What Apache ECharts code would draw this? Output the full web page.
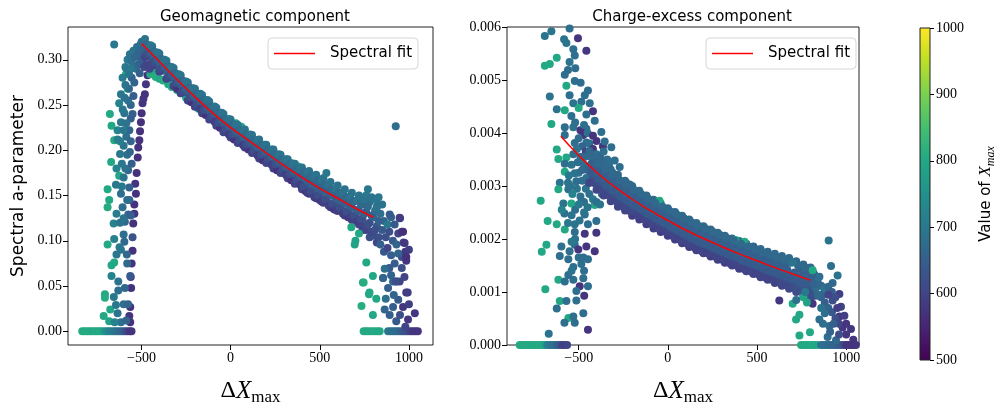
<!DOCTYPE html>
<html><head><meta charset="utf-8">
<script src="https://cdn.jsdelivr.net/npm/echarts@6/dist/echarts.min.js"></script>
<style>html,body{margin:0;padding:0;background:#fff}#c{width:998px;height:411px}</style>
</head><body><div id="c"></div><script>
// ---------- data ----------
const xTicks = [-500, 0, 500, 1000];
const geoYTicks = [0, 0.05, 0.10, 0.15, 0.20, 0.25, 0.30];
const ceYTicks = [0, 0.001, 0.002, 0.003, 0.004, 0.005, 0.006];
const cbTicks = [500, 600, 700, 800, 900, 1000];

const geoFitX = [-500,-400,-300,-200,-100,0,100,200,300,400,500,600,700,800];
const geoFitY = [0.318,0.298,0.278,0.259,0.241,0.225,0.211,0.197,0.183,0.170,0.158,0.147,0.136,0.126];
const ceFitX = [-600,-500,-400,-300,-200,-100,0,100,200,300,400,500,600,700,800];
const ceFitY = [3.94e-3,3.58e-3,3.26e-3,2.99e-3,2.75e-3,2.54e-3,2.35e-3,2.17e-3,2.01e-3,1.86e-3,1.72e-3,1.59e-3,1.46e-3,1.34e-3,1.22e-3];

// [deltaXmax, a-parameter, Xmax]
const geoZero = [[-832,0,805],[-818,0,805],[-804,0,805],[-790,0,805],[-776,0,800],[-762,0,805],[-748,0,800],[-734,0,805],[-720,0,800],[-706,0,760],[-692,0,740],[-678,0,720],[-664,0,710],[-650,0,700],[-636,0,680],[-622,0,670],[-608,0,660],[-594,0,640],[-580,0,600],[-566,0,580],[-556,0,575],[746,0,805],[760,0,800],[774,0,805],[790,0,800],[806,0,805],[822,0,800],[836,0,800],[883,0,700],[897,0,690],[911,0,680],[925,0,680],[939,0,670],[953,0,660],[967,0,640],[981,0,630],[995,0,620],[1009,0,590],[1023,0,580],[1037,0,575],[1050,0,575]];
const geoRise = [[-563,0.027,570],[-558,0.048,570],[-563,0.010,570],[-568,0.017,575],[-560,0.060,580],[-555,0.075,575],[-550,0.089,570],[-546,0.119,570],[-540,0.130,575],[-540,0.140,570],[-531,0.152,570],[-535,0.163,575],[-527,0.175,570],[-521,0.192,570],[-518,0.203,570],[-512,0.211,570],[-508,0.221,570],[-503,0.231,570],[-499,0.241,570],[-494,0.252,575],[-489,0.257,575],[-481,0.262,570],[-475,0.273,575],[-466,0.283,570],
[-690,0.157,800],[-681,0.145,800],[-690,0.137,805],[-690,0.096,800],[-653,0.076,800],[-668,0.073,800],[-705,0.041,800],[-705,0.037,805],[-712,0.017,800],[-677,0.240,800],[-668,0.227,800],[-653,0.211,805],[-670,0.187,800],[-625,0.172,800],[-587,0.284,800],[-578,0.268,800],[-675,0.024,800],[-681,0.011,790],
[-643,0.162,700],[-615,0.152,680],[-568,0.159,660],[-606,0.137,680],[-568,0.145,650],[-574,0.129,660],[-593,0.121,670],[-656,0.119,720],[-600,0.107,680],[-550,0.104,630],[-653,0.102,720],[-596,0.099,670],[-615,0.090,690],[-623,0.093,700],[-668,0.061,720],[-630,0.055,690],[-563,0.061,640],[-593,0.048,670],[-630,0.045,680],[-643,0.029,700],[-634,0.020,690],[-615,0.010,680],[-587,0.291,700],[-606,0.280,710],[-615,0.262,700],[-625,0.252,720],[-596,0.241,690],[-615,0.231,700],[-634,0.222,720],[-568,0.222,660],[-634,0.212,710],[-600,0.205,690],[-580,0.195,680],[-610,0.185,700],[-640,0.180,720],[-600,0.170,690],[-575,0.178,660],[-620,0.196,700],[-585,0.215,680],[-560,0.235,650],[-595,0.258,690],[-570,0.268,670],[-555,0.280,660],[-560,0.250,660],[-580,0.075,670],[-600,0.030,680],[-575,0.030,660],[-655,0.038,700],[-585,0.012,660],[-650,0.010,720],[-640,0.130,710],[-620,0.120,690],[-582,0.085,670],[-640,0.085,700],
[-590,0.272,690],[-575,0.255,680],[-605,0.245,700],[-585,0.230,690],[-560,0.210,660],[-545,0.260,650],[-540,0.275,660],[-550,0.240,650],[-565,0.198,670],[-590,0.180,690],[-555,0.185,650],[-620,0.210,710],[-600,0.222,700],[-610,0.160,700],[-580,0.145,680],[-600,0.125,690],[-560,0.128,650]];
const geoPeak = [[-578,0.300,700],[-565,0.306,690],[-555,0.298,680],[-545,0.310,690],[-535,0.303,670],[-525,0.314,680],[-515,0.307,660],[-505,0.317,680],[-499,0.320,680],[-495,0.310,660],[-485,0.316,670],[-475,0.309,650],[-465,0.314,660],[-455,0.305,640],[-445,0.310,650],[-545,0.292,690],[-530,0.290,680],[-515,0.295,660],[-500,0.300,650],[-485,0.292,610],[-470,0.295,600],[-455,0.290,600],[-590,0.292,700],[-570,0.285,690],[-560,0.290,700],[-653,0.317,700],[-510,0.285,650],[-440,0.300,620],[-428,0.294,590]];
const geoBand = [[-480,0.323,690],[-460,0.314,650],[-480,0.313,660],[-460,0.304,630],[-480,0.303,600],
[-440,0.315,690],[-420,0.306,650],[-440,0.305,660],[-420,0.296,630],[-440,0.295,600],
[-400,0.307,690],[-380,0.298,650],[-400,0.297,660],[-380,0.288,630],[-400,0.287,600],
[-360,0.299,690],[-340,0.290,650],[-360,0.289,660],[-340,0.280,630],[-360,0.279,600],
[-320,0.291,690],[-300,0.282,650],[-320,0.281,660],[-300,0.272,630],[-320,0.271,600],[-300,0.268,570],
[-280,0.283,690],[-260,0.274,650],[-280,0.273,660],[-260,0.264,630],[-280,0.263,600],
[-240,0.275,690],[-220,0.267,650],[-240,0.265,660],[-220,0.257,630],[-240,0.255,600],[-220,0.253,570],
[-200,0.268,690],[-180,0.259,650],[-200,0.258,660],[-180,0.249,630],[-200,0.248,600],
[-160,0.261,690],[-140,0.252,650],[-160,0.251,660],[-140,0.242,630],[-160,0.241,600],[-140,0.239,570],
[-120,0.254,690],[-100,0.245,650],[-120,0.244,660],[-100,0.235,630],[-120,0.234,600],
[-80,0.247,690],[-60,0.238,650],[-80,0.237,660],[-60,0.228,630],[-80,0.227,600],[-60,0.225,570],
[-40,0.240,690],[-20,0.231,650],[-40,0.230,660],[-20,0.221,630],[-40,0.220,600],
[0,0.234,690],[20,0.225,650],[0,0.224,660],[20,0.216,630],[0,0.214,600],[20,0.212,570],
[40,0.228,690],[60,0.219,650],[40,0.218,660],[60,0.210,630],[40,0.208,600],
[80,0.223,690],[100,0.214,650],[80,0.213,660],[100,0.205,630],[80,0.203,600],[100,0.201,570],
[120,0.217,690],[140,0.208,650],[120,0.207,660],[140,0.199,630],[120,0.197,600],
[160,0.212,690],[180,0.203,650],[160,0.201,660],[180,0.194,630],[160,0.191,600],[180,0.189,570],
[200,0.206,690],[220,0.197,650],[200,0.196,660],[220,0.188,630],[200,0.186,600],
[240,0.201,690],[260,0.192,650],[240,0.190,660],[260,0.183,630],[240,0.180,600],[260,0.178,570],
[280,0.195,690],[300,0.186,650],[280,0.185,660],[300,0.177,630],[280,0.175,600],
[320,0.190,690],[340,0.181,650],[320,0.179,660],[340,0.172,630],[320,0.169,600],[340,0.167,570],
[360,0.185,690],[380,0.176,650],[360,0.174,660],[380,0.166,630],[360,0.163,600],
[400,0.181,690],[420,0.172,650],[400,0.169,660],[420,0.161,630],[400,0.157,600],[420,0.155,570],
[440,0.177,690],[460,0.168,650],[440,0.164,660],[460,0.156,630],[440,0.152,600],[460,0.172,700],
[480,0.173,690],[500,0.163,650],[480,0.159,660],[500,0.151,630],[480,0.147,600],[500,0.145,570],
[520,0.169,690],[540,0.159,650],[520,0.155,660],[540,0.147,630],[520,0.142,600],[537,0.175,700],
[560,0.165,690],[580,0.154,650],[560,0.150,660],[580,0.142,630],[560,0.137,600],[580,0.135,570],
[600,0.161,690],[620,0.151,650],[600,0.146,660],[620,0.138,630],[600,0.133,600],
[640,0.157,690],[660,0.147,650],[640,0.141,660],[660,0.133,630],[640,0.128,600],[660,0.126,570],
[680,0.153,690],[700,0.144,650],[680,0.137,660],[700,0.129,630],[680,0.123,600],
[720,0.150,690],[740,0.140,650],[720,0.133,660],[740,0.124,630],[720,0.118,600],[740,0.112,580],
[760,0.150,700],[780,0.143,680],[760,0.132,660],[780,0.120,630],[760,0.112,600],[780,0.104,620],
[800,0.146,700],[820,0.138,680],[800,0.126,660],[820,0.116,640],[800,0.106,620],[820,0.098,600],[770,0.157,700],[830,0.148,700],[850,0.140,690]];
const geoBand2 = [[-470,0.317,670],[-470,0.306,620],[-450,0.308,650],[-450,0.316,690],
[-430,0.309,670],[-430,0.298,620],[-410,0.300,650],[-410,0.308,690],
[-390,0.301,670],[-390,0.290,620],[-370,0.292,650],[-370,0.300,690],
[-350,0.293,670],[-350,0.282,620],[-330,0.284,650],[-330,0.292,690],
[-310,0.285,670],[-310,0.274,620],[-290,0.276,650],[-290,0.284,690],
[-270,0.277,670],[-270,0.266,620],[-250,0.268,650],[-250,0.276,690],
[-230,0.2695,670],[-230,0.2585,620],[-210,0.2605,650],[-210,0.2685,690],
[-190,0.2625,670],[-190,0.2515,620],[-170,0.2545,650],[-170,0.2625,690],[-170,0.2455,590],
[-150,0.2555,670],[-150,0.2445,620],[-130,0.2475,650],[-130,0.2555,690],
[-110,0.2485,670],[-110,0.2375,620],[-90,0.2405,650],[-90,0.2485,690],[-90,0.2315,590],
[-70,0.2415,670],[-70,0.2305,620],[-50,0.2335,650],[-50,0.2415,690],
[-30,0.2345,670],[-30,0.2235,620],[-10,0.2265,650],[-10,0.2345,690],[-10,0.2175,590],
[10,0.2285,670],[10,0.2175,620],[30,0.2205,650],[30,0.2285,690],
[50,0.2225,670],[50,0.2115,620],[70,0.2145,650],[70,0.2225,690],[70,0.2055,590],
[90,0.2175,670],[90,0.2065,620],[110,0.2095,650],[110,0.2175,690],
[130,0.2115,670],[130,0.2005,620],[150,0.2035,650],[150,0.2115,690],[150,0.1945,590],
[170,0.206,670],[170,0.195,620],[190,0.198,650],[190,0.206,690],
[210,0.201,670],[210,0.190,620],[230,0.193,650],[230,0.201,690],[230,0.184,590],
[250,0.1955,670],[250,0.1845,620],[270,0.1875,650],[270,0.1955,690],
[290,0.190,670],[290,0.179,620],[310,0.182,650],[310,0.190,690],[310,0.173,590],
[330,0.1845,670],[330,0.1735,620],[350,0.1765,650],[350,0.1845,690],
[370,0.179,670],[370,0.168,620],[390,0.171,650],[390,0.179,690],[390,0.162,590],
[410,0.176,670],[410,0.160,620],[430,0.166,650],[430,0.176,690],[430,0.153,590],
[450,0.171,670],[450,0.155,620],[470,0.161,650],[470,0.171,690],[470,0.148,590],
[490,0.1665,670],[490,0.1505,620],[510,0.1565,650],[510,0.1665,690],[510,0.1435,590],
[530,0.162,670],[530,0.146,620],[550,0.152,650],[550,0.162,690],[550,0.139,590],
[570,0.157,670],[570,0.141,620],[590,0.147,650],[590,0.157,690],[590,0.134,590],
[610,0.153,670],[610,0.137,620],[630,0.143,650],[630,0.153,690],[630,0.130,590],
[650,0.1485,670],[650,0.1325,620],[670,0.1385,650],[670,0.1485,690],[670,0.1255,590],
[690,0.144,670],[690,0.128,620],[710,0.134,650],[710,0.145,690],[710,0.121,590],
[730,0.141,670],[730,0.124,620],[750,0.130,650],[750,0.146,690],[750,0.116,600],
[770,0.138,670],[770,0.118,620],[790,0.128,650],[790,0.148,690],[790,0.110,610],
[810,0.133,670],[810,0.112,620],[830,0.122,650],[830,0.140,690],[830,0.104,620]];
const geoGreen = [[-450,0.284,810],[-440,0.288,800],[-420,0.281,810],[-400,0.279,800],[-380,0.277,810],[-360,0.279,800],[-350,0.273,800],[-330,0.270,810],[-300,0.272,810],[-300,0.2665,800],[-280,0.263,810],[-250,0.258,800],[-230,0.2545,810],[-200,0.249,800],[-180,0.246,800],[30,0.230,790],[60,0.226,800],[340,0.186,800],[380,0.182,790],[420,0.176,800]];
const geoTail = [[840,0.130,680],[860,0.122,660],[850,0.112,640],[870,0.104,620],[840,0.096,650],[860,0.088,640],[880,0.118,700],[900,0.126,660],[890,0.110,620],[910,0.100,640],[880,0.092,600],[900,0.084,650],[920,0.118,640],[940,0.108,600],[930,0.096,660],[950,0.125,580],[960,0.110,580],[970,0.098,600],[980,0.088,580],[960,0.082,620],[985,0.078,580],[940,0.086,660],[920,0.075,650],[890,0.070,640],[864,0.069,680],[855,0.059,690],[900,0.062,660],[930,0.055,640],[948,0.055,600],[911,0.055,660],[985,0.043,580],[993,0.043,590],[975,0.060,600],[960,0.070,620],[883,0.048,650],[864,0.024,660],[911,0.027,650],[967,0.027,580],[892,0.018,650],[929,0.011,640],[995,0.013,580],[1033,0.020,580],[940,0.035,640],[915,0.040,660],[870,0.036,680],[1000,0.030,590],[950,0.018,620],[980,0.005,600],[926,0.2265,680],[818,0.136,690],[892,0.129,640],[948,0.1255,590],[967,0.110,570],[976,0.0975,580],[985,0.082,570],[928,0.055,620],[855,0.059,660],[1000,0.090,590],
[761,0.076,800],[798,0.061,800],[742,0.054,800],[696,0.096,790],[677,0.115,800],[776,0.041,800],[746,0.054,810],[734,0.028,810],[798,0.018,800],[779,0.043,800],[817,0.036,800],[700,0.100,790],[720,0.108,800]];

const ceZero = [[-831,0,805],[-817,0,800],[-803,0,805],[-789,0,800],[-775,0,805],[-761,0,800],[-747,0,805],[-733,0,800],[-719,0,805],[-705,0,800],[-691,0,790],[-677,0,720],[-663,0,700],[-649,0,690],[-635,0,680],[-621,0,660],[-607,0,640],[-593,0,600],[-579,0,590],[-565,0,600],[747,0,805],[761,0,800],[775,0,805],[790,0,800],[805,0,805],[820,0,800],[835,0,800],[859,0,690],[873,0,680],[887,0,680],[901,0,670],[915,0,670],[929,0,660],[943,0,660],[957,0,650],[971,0,640],[985,0,620],[999,0,580],[1013,0,575],[1027,0,575],[1041,0,570],[1055,0,575]];
const ceRise = [[-690,5.83e-3,690],[-653,5.92e-3,690],[-551,5.97e-3,680],[-504,5.79e-3,575],[-582,5.77e-3,690],[-569,5.70e-3,690],[-457,5.55e-3,580],[-530,5.58e-3,680],[-522,5.46e-3,680],[-551,5.34e-3,690],[-519,5.22e-3,680],[-560,5.19e-3,680],[-578,5.10e-3,680],[-690,5.27e-3,800],[-662,5.30e-3,800],[-623,5.42e-3,800],[-569,4.89e-3,800],[-522,4.98e-3,680],[-489,4.95e-3,680],[-448,4.80e-3,680],[-662,4.69e-3,690],[-551,4.71e-3,680],[-466,4.71e-3,680],[-485,4.59e-3,680],[-530,4.56e-3,690],[-623,4.45e-3,690],[-578,4.43e-3,800],[-500,4.47e-3,800],[-438,4.56e-3,680],[-420,4.41e-3,575],[-541,4.32e-3,680],[-457,4.35e-3,680],[-410,4.23e-3,680],[-653,4.17e-3,800],[-578,4.11e-3,680],[-530,4.11e-3,690],[-457,4.08e-3,680],[-474,3.96e-3,575],[-373,4.02e-3,680],[-578,3.96e-3,680],[-623,3.69e-3,800],[-522,3.81e-3,680],[-457,3.82e-3,680],[-364,3.75e-3,575],[-354,3.84e-3,680],[-317,3.73e-3,680],[-614,3.51e-3,800],[-569,3.54e-3,800],[-578,3.42e-3,680],[-485,3.48e-3,680],[-429,3.42e-3,680],[-373,3.48e-3,680],[-298,3.48e-3,680],[-270,3.36e-3,680],[-578,3.27e-3,800],[-522,3.24e-3,690],[-606,3.06e-3,690],[-560,3.06e-3,690],[-513,3.09e-3,680],[-457,3.15e-3,680],[-392,3.18e-3,680],[-336,3.15e-3,680],[-233,3.06e-3,680],[-214,3.03e-3,680],
[-713,2.72e-3,800],[-614,2.94e-3,800],[-558,2.94e-3,680],[-586,2.67e-3,690],[-541,2.67e-3,800],[-485,2.70e-3,680],[-410,2.64e-3,800],[-674,2.34e-3,800],[-623,2.28e-3,800],[-580,2.48e-3,680],[-522,2.28e-3,690],[-466,2.46e-3,680],[-448,2.28e-3,680],[-401,2.34e-3,680],[-578,2.18e-3,800],[-522,2.13e-3,680],[-466,2.10e-3,575],[-401,2.12e-3,575],[-681,1.89e-3,800],[-707,1.76e-3,800],[-597,1.86e-3,680],[-522,1.89e-3,680],[-457,1.86e-3,575],[-502,1.80e-3,575],[-551,1.77e-3,680],[-410,1.77e-3,575],[-606,1.68e-3,680],[-558,1.62e-3,680],[-474,1.65e-3,680],[-448,1.62e-3,680],[-530,1.47e-3,680],[-485,1.53e-3,680],[-558,1.32e-3,680],[-614,1.23e-3,800],[-578,1.20e-3,680],[-530,1.23e-3,680],[-474,1.26e-3,680],[-494,1.11e-3,575],[-448,1.11e-3,680],[-687,1.05e-3,800],[-513,1.02e-3,680],[-606,0.83e-3,800],[-569,0.83e-3,680],[-513,0.84e-3,680],[-469,0.93e-3,575],[-623,0.69e-3,680],[-474,0.60e-3,680],[-558,0.51e-3,800],[-530,0.54e-3,680],[-580,0.42e-3,680],[-522,0.42e-3,680],[-448,0.29e-3,575],[-668,0.21e-3,690],
[-500,3.90e-3,680],[-480,3.75e-3,660],[-460,3.65e-3,600],[-440,3.80e-3,680],[-420,3.70e-3,575],[-400,3.60e-3,680],[-380,3.55e-3,660],[-360,3.65e-3,680],[-340,3.50e-3,680],[-490,3.55e-3,680],[-470,3.40e-3,680],[-450,3.30e-3,660],[-430,3.20e-3,680],[-410,3.05e-3,680],[-390,2.95e-3,680],[-370,2.85e-3,680],[-500,3.25e-3,690],[-480,3.10e-3,680],[-460,2.95e-3,690],[-440,2.85e-3,680],[-420,2.75e-3,700],[-400,2.70e-3,680],[-380,2.65e-3,690],[-510,2.95e-3,690],[-490,2.80e-3,680],[-470,2.70e-3,680],[-450,2.60e-3,690],[-530,3.60e-3,680],[-510,3.70e-3,690],[-490,4.05e-3,575],[-470,4.15e-3,680],[-450,4.00e-3,680],[-520,2.55e-3,680],[-540,2.45e-3,690],[-350,3.30e-3,680],[-330,3.40e-3,680],[-310,3.25e-3,680],[-520,4.20e-3,680],[-420,3.95e-3,575],[-400,3.85e-3,575],
[-540,3.40e-3,690],[-555,3.20e-3,700],[-545,3.00e-3,690],[-505,3.45e-3,680],[-480,3.30e-3,670],[-465,3.55e-3,670],[-430,3.55e-3,680],[-445,3.05e-3,680],[-500,2.65e-3,700],[-535,2.85e-3,720],[-470,2.50e-3,690],[-520,2.00e-3,690],[-540,1.95e-3,700],[-495,2.35e-3,690],[-500,1.65e-3,680],[-540,1.40e-3,690],[-470,1.40e-3,680],[-595,2.55e-3,720],[-560,2.30e-3,700]];
const ceBand = [[-440,3.66e-3,670],[-420,3.45e-3,650],[-440,3.36e-3,660],[-420,3.15e-3,630],[-440,3.06e-3,600],
[-400,3.53e-3,670],[-380,3.33e-3,650],[-400,3.23e-3,660],[-380,3.03e-3,630],[-400,2.93e-3,600],
[-360,3.42e-3,670],[-340,3.22e-3,650],[-360,3.12e-3,660],[-340,2.92e-3,630],[-360,2.82e-3,600],
[-320,3.31e-3,670],[-300,3.11e-3,650],[-320,3.01e-3,660],[-300,2.81e-3,630],[-320,2.71e-3,600],
[-280,3.21e-3,670],[-260,3.01e-3,650],[-280,2.91e-3,660],[-260,2.71e-3,630],[-280,2.61e-3,600],
[-240,3.10e-3,670],[-220,2.92e-3,650],[-240,2.82e-3,660],[-220,2.63e-3,630],[-240,2.54e-3,600],
[-200,3.00e-3,670],[-180,2.82e-3,650],[-200,2.72e-3,660],[-180,2.53e-3,630],[-200,2.44e-3,590],
[-160,2.91e-3,670],[-140,2.74e-3,650],[-160,2.64e-3,660],[-140,2.45e-3,630],[-160,2.37e-3,590],
[-120,2.82e-3,670],[-100,2.66e-3,650],[-120,2.55e-3,660],[-100,2.37e-3,630],[-120,2.28e-3,590],
[-80,2.74e-3,670],[-60,2.58e-3,650],[-80,2.47e-3,660],[-60,2.29e-3,630],[-80,2.20e-3,590],
[-40,2.67e-3,670],[-20,2.51e-3,650],[-40,2.40e-3,660],[-20,2.22e-3,630],[-40,2.13e-3,590],
[0,2.58e-3,670],[20,2.43e-3,650],[0,2.32e-3,660],[20,2.15e-3,630],[0,2.06e-3,590],
[40,2.51e-3,670],[60,2.36e-3,650],[40,2.25e-3,660],[60,2.08e-3,630],[40,1.99e-3,590],
[80,2.44e-3,670],[100,2.29e-3,650],[80,2.18e-3,660],[100,2.01e-3,630],[80,1.92e-3,590],
[120,2.37e-3,670],[140,2.22e-3,650],[120,2.11e-3,660],[140,1.94e-3,630],[120,1.85e-3,590],
[160,2.30e-3,670],[180,2.15e-3,650],[160,2.04e-3,660],[180,1.88e-3,630],[160,1.79e-3,590],
[200,2.24e-3,670],[220,2.09e-3,650],[200,1.98e-3,660],[220,1.82e-3,630],[200,1.73e-3,590],
[240,2.18e-3,670],[260,2.03e-3,650],[240,1.92e-3,660],[260,1.76e-3,630],[240,1.67e-3,590],
[280,2.12e-3,670],[300,1.97e-3,650],[280,1.86e-3,660],[300,1.70e-3,630],[280,1.61e-3,590],
[320,2.06e-3,670],[340,1.91e-3,650],[320,1.80e-3,660],[340,1.64e-3,630],[320,1.55e-3,590],
[360,2.01e-3,670],[380,1.86e-3,650],[360,1.75e-3,660],[380,1.59e-3,630],[360,1.50e-3,590],
[400,1.96e-3,670],[420,1.81e-3,650],[400,1.69e-3,660],[420,1.53e-3,630],[400,1.44e-3,590],
[440,1.91e-3,670],[460,1.76e-3,650],[440,1.64e-3,660],[460,1.48e-3,630],[440,1.39e-3,600],
[480,1.86e-3,670],[500,1.71e-3,650],[480,1.59e-3,660],[500,1.43e-3,630],[480,1.34e-3,600],
[520,1.81e-3,670],[540,1.66e-3,650],[520,1.53e-3,660],[540,1.37e-3,630],[520,1.28e-3,600],
[560,1.76e-3,670],[580,1.61e-3,650],[560,1.48e-3,660],[580,1.32e-3,630],[560,1.23e-3,600],
[600,1.72e-3,670],[620,1.57e-3,650],[600,1.43e-3,660],[620,1.27e-3,630],[600,1.17e-3,600],
[640,1.68e-3,670],[660,1.53e-3,650],[640,1.38e-3,660],[660,1.22e-3,630],[640,1.12e-3,600],
[680,1.64e-3,670],[700,1.56e-3,650],[680,1.33e-3,660],[700,1.17e-3,630],[680,1.06e-3,610],
[720,1.58e-3,670],[740,1.45e-3,650],[720,1.28e-3,660],[740,1.12e-3,640],[720,1.00e-3,620],
[760,1.52e-3,670],[780,1.40e-3,650],[760,1.24e-3,660],[780,1.06e-3,640],[760,0.94e-3,620],
[800,1.46e-3,670],[820,1.34e-3,650],[800,1.18e-3,660],[820,1.00e-3,640],[800,0.88e-3,620],
[-47,2.72e-3,800],[380,1.98e-3,790],[430,1.95e-3,800]];
const ceBand2 = [[-430,3.56e-3,670],[-430,3.26e-3,640],[-410,3.36e-3,650],[-410,3.06e-3,610],
[-390,3.43e-3,670],[-390,3.13e-3,640],[-370,3.23e-3,650],[-370,2.93e-3,610],
[-350,3.32e-3,670],[-350,3.02e-3,640],[-330,3.12e-3,650],[-330,2.82e-3,610],
[-310,3.21e-3,670],[-310,2.91e-3,640],[-290,3.01e-3,650],[-290,2.71e-3,610],
[-270,3.11e-3,670],[-270,2.81e-3,640],[-250,2.91e-3,650],[-250,2.61e-3,610],
[-230,3.02e-3,670],[-230,2.72e-3,640],[-210,2.82e-3,650],[-210,2.52e-3,610],
[-190,2.93e-3,670],[-190,2.63e-3,640],[-170,2.75e-3,650],[-170,2.45e-3,600],
[-150,2.85e-3,670],[-150,2.55e-3,640],[-130,2.67e-3,650],[-130,2.37e-3,600],
[-110,2.76e-3,670],[-110,2.46e-3,640],[-90,2.58e-3,650],[-90,2.28e-3,600],
[-70,2.68e-3,670],[-70,2.38e-3,640],[-50,2.50e-3,650],[-50,2.20e-3,600],
[-30,2.61e-3,670],[-30,2.31e-3,640],[-10,2.43e-3,650],[-10,2.13e-3,600],
[10,2.53e-3,670],[10,2.23e-3,640],[30,2.35e-3,650],[30,2.05e-3,600],
[50,2.46e-3,670],[50,2.16e-3,640],[70,2.28e-3,650],[70,1.98e-3,600],
[90,2.39e-3,670],[90,2.09e-3,640],[110,2.21e-3,650],[110,1.91e-3,600],
[130,2.32e-3,670],[130,2.02e-3,640],[150,2.14e-3,650],[150,1.84e-3,600],
[170,2.25e-3,670],[170,1.95e-3,640],[190,2.07e-3,650],[190,1.77e-3,600],
[210,2.20e-3,670],[210,1.90e-3,640],[230,2.02e-3,650],[230,1.72e-3,600],
[250,2.14e-3,670],[250,1.84e-3,640],[270,1.96e-3,650],[270,1.66e-3,600],
[290,2.08e-3,670],[290,1.78e-3,640],[310,1.90e-3,650],[310,1.60e-3,600],
[330,2.02e-3,670],[330,1.72e-3,640],[350,1.84e-3,650],[350,1.54e-3,600],
[370,1.97e-3,670],[370,1.67e-3,640],[390,1.79e-3,650],[390,1.49e-3,600],
[410,1.91e-3,670],[410,1.61e-3,640],[430,1.73e-3,650],[430,1.43e-3,600],
[450,1.86e-3,670],[450,1.56e-3,640],[470,1.68e-3,650],[470,1.38e-3,600],
[490,1.81e-3,670],[490,1.51e-3,640],[510,1.63e-3,650],[510,1.33e-3,600],
[530,1.75e-3,670],[530,1.45e-3,640],[550,1.57e-3,650],[550,1.27e-3,600],
[570,1.70e-3,670],[570,1.40e-3,640],[590,1.52e-3,650],[590,1.22e-3,600],
[610,1.65e-3,670],[610,1.35e-3,640],[630,1.47e-3,650],[630,1.17e-3,610],
[650,1.60e-3,670],[650,1.30e-3,640],[670,1.42e-3,650],[670,1.12e-3,610],
[690,1.55e-3,670],[690,1.25e-3,640],[710,1.37e-3,650],[710,1.07e-3,620],
[730,1.50e-3,670],[730,1.20e-3,640],[750,1.32e-3,650],[750,1.02e-3,620],
[770,1.46e-3,670],[770,1.16e-3,640],[790,1.28e-3,650],[790,0.98e-3,620],
[810,1.41e-3,670],[810,1.11e-3,640],[830,1.23e-3,650],[830,0.93e-3,620]];
const ceTail = [[902,1.97e-3,690],[915,1.49e-3,680],[952,1.31e-3,690],[924,1.17e-3,670],[850,1.29e-3,680],[812,1.41e-3,800],[700,1.56e-3,690],[625,0.84e-3,580],[700,0.78e-3,800],[738,0.57e-3,800],[719,0.48e-3,800],[797,0.24e-3,800],[738,0.18e-3,800],[850,0.48e-3,680],[906,0.36e-3,670],[962,0.54e-3,580],[980,0.33e-3,580],[1027,0.30e-3,580],[896,0.15e-3,680],[943,0.09e-3,670],[962,0.96e-3,590],[971,0.72e-3,600],[924,0.84e-3,620],[868,0.96e-3,670],[831,1.08e-3,680],[812,0.78e-3,580],
[840,1.20e-3,680],[860,1.12e-3,670],[880,1.05e-3,690],[900,1.10e-3,670],[920,1.00e-3,650],[940,0.90e-3,620],[860,0.90e-3,660],[880,0.80e-3,650],[900,0.70e-3,660],[920,0.62e-3,640],[940,0.50e-3,620],[960,0.40e-3,600],[880,0.60e-3,680],[860,0.70e-3,690],[840,0.95e-3,670],[820,1.15e-3,660],[900,0.95e-3,600],[950,0.70e-3,590],[930,0.40e-3,650],[910,0.25e-3,660],[1000,0.20e-3,580],[1040,0.10e-3,575],[990,0.55e-3,590],[1000,0.40e-3,575],[960,0.20e-3,620],[870,0.40e-3,680],[760,0.90e-3,800],[780,0.80e-3,790],[770,1.00e-3,700],[720,0.85e-3,680]];

// ---------- chart ----------
const viridis = ['#440154','#482475','#414487','#355f8d','#2a788e','#21918c','#22a884','#44bf70','#7ad151','#bddf26','#fde725'];
const SERIF = 'Liberation Serif';
const SANS = 'DejaVu Sans';
const fmtX = v => (v < 0 ? '\u2212' + Math.abs(v) : String(v));
const tickLabel = {fontFamily: SERIF, fontSize: 14, color: '#000'};
const xName = {
  name: '{d|\u0394}{x|X}{s|max}',
  nameLocation: 'middle', nameGap: 31,
  nameTextStyle: {rich: {
    d: {fontFamily: SERIF, fontSize: 24, color: '#000', lineHeight: 30},
    x: {fontFamily: SERIF, fontStyle: 'italic', fontSize: 25, color: '#000', lineHeight: 30},
    s: {fontFamily: SERIF, fontSize: 17, color: '#000', lineHeight: 14, verticalAlign: 'bottom'}
  }}
};
function xAxisFor(gi, min, max) {
  return Object.assign({
    type: 'value', gridIndex: gi, min: min, max: max,
    axisLine: {show: false, onZero: false}, splitLine: {show: false},
    axisTick: {show: true, length: 5, customValues: xTicks, lineStyle: {color: '#000'}},
    axisLabel: Object.assign({customValues: xTicks, formatter: fmtX, margin: 6}, tickLabel)
  }, xName);
}
const gradient = new echarts.graphic.LinearGradient(0, 1, 0, 0,
  viridis.map((c, i) => ({offset: i / (viridis.length - 1), color: c})));
const legendBase = {
  data: [{name: 'Spectral fit', icon: 'rect', itemStyle: {color: '#ff0000'}}], top: 38, orient: 'horizontal',
  itemWidth: 41, itemHeight: 1.6, padding: [7, 6, 7, 6],
  backgroundColor: 'rgba(255,255,255,0.85)', borderColor: '#d6d6d6', borderWidth: 1, borderRadius: 4,
  textStyle: {fontFamily: SANS, fontSize: 15, color: '#000', padding: [0, 0, 0, 10], lineHeight: 17},
  selectedMode: false, z: 10
};
const chart = echarts.init(document.getElementById('c'), null, {renderer: 'canvas'});
chart.setOption({
  animation: false,
  backgroundColor: '#fff',
  title: [
    {text: 'Geomagnetic component', left: 250, top: 5, textAlign: 'center',
     textStyle: {fontFamily: SANS, fontSize: 15, fontWeight: 'normal', color: '#000'}},
    {text: 'Charge-excess component', left: 687, top: 5, textAlign: 'center',
     textStyle: {fontFamily: SANS, fontSize: 15, fontWeight: 'normal', color: '#000'}}
  ],
  legend: [Object.assign({left: 268}, legendBase), Object.assign({left: 706}, legendBase)],
  grid: [
    {left: 68, top: 27, width: 365, height: 333, show: true, borderColor: '#222', borderWidth: 1, backgroundColor: 'transparent'},
    {left: 507, top: 27, width: 352, height: 333, show: true, borderColor: '#222', borderWidth: 1, backgroundColor: 'transparent'},
    {left: 920, top: 28, width: 17, height: 332, show: true, borderColor: '#222', borderWidth: 1, backgroundColor: gradient}
  ],
  xAxis: [
    xAxisFor(0, -912, 1135),
    xAxisFor(1, -902, 1072),
    {type: 'value', gridIndex: 2, show: false, min: 0, max: 1}
  ],
  yAxis: [
    {type: 'value', gridIndex: 0, min: -0.0151, max: 0.3362,
     axisLine: {show: false, onZero: false}, splitLine: {show: false},
     axisTick: {show: true, length: 5, customValues: geoYTicks, lineStyle: {color: '#000'}},
     axisLabel: Object.assign({customValues: geoYTicks, formatter: v => v.toFixed(2), margin: 6}, tickLabel),
     name: 'Spectral a-parameter', nameLocation: 'middle', nameGap: 41,
     nameTextStyle: {fontFamily: SANS, fontSize: 17, color: '#000'}},
    {type: 'value', gridIndex: 1, min: 0, max: 0.006,
     axisLine: {show: false, onZero: false}, splitLine: {show: false},
     axisTick: {show: true, length: 5, customValues: ceYTicks, lineStyle: {color: '#000'}},
     axisLabel: Object.assign({customValues: ceYTicks, formatter: v => v.toFixed(3), margin: 6}, tickLabel)},
    {type: 'value', gridIndex: 2, position: 'right', min: 500, max: 1000,
     axisLine: {show: false, onZero: false}, splitLine: {show: false},
     axisTick: {show: true, length: 4, customValues: cbTicks, lineStyle: {color: '#000'}},
     axisLabel: Object.assign({customValues: cbTicks, margin: 6, formatter: v => String(v)}, tickLabel),
     name: 'Value of {x|X}{s|max}', nameLocation: 'middle', nameGap: 45, nameRotate: 90,
     nameTextStyle: {fontFamily: SANS, fontSize: 15, color: '#000',
       rich: {x: {fontFamily: SERIF, fontStyle: 'italic', fontSize: 17, color: '#000', lineHeight: 22},
              s: {fontFamily: SERIF, fontStyle: 'italic', fontSize: 12, color: '#000', lineHeight: 10, verticalAlign: 'bottom'}}}}
  ],
  visualMap: {
    show: false, type: 'continuous', min: 500, max: 1000, dimension: 2, seriesIndex: [0, 2],
    inRange: {color: viridis}
  },
  series: [
    {type: 'scatter', xAxisIndex: 0, yAxisIndex: 0, symbolSize: 8, z: 2, itemStyle: {opacity: 1},
     data: geoZero.concat(geoRise, geoGreen, geoPeak, geoBand, geoBand2, geoTail)},
    {type: 'line', name: 'Spectral fit', xAxisIndex: 0, yAxisIndex: 0, smooth: true, symbol: 'none', z: 5,
     lineStyle: {color: '#ff0000', width: 1.5}, itemStyle: {color: '#ff0000'},
     data: geoFitX.map((x, i) => [x, geoFitY[i]])},
    {type: 'scatter', xAxisIndex: 1, yAxisIndex: 1, symbolSize: 8, z: 2, itemStyle: {opacity: 1},
     data: ceZero.concat(ceRise, ceBand, ceBand2, ceTail)},
    {type: 'line', name: 'Spectral fit', xAxisIndex: 1, yAxisIndex: 1, smooth: true, symbol: 'none', z: 5,
     lineStyle: {color: '#ff0000', width: 1.5}, itemStyle: {color: '#ff0000'},
     data: ceFitX.map((x, i) => [x, ceFitY[i]])}
  ]
});
</script></body></html>
